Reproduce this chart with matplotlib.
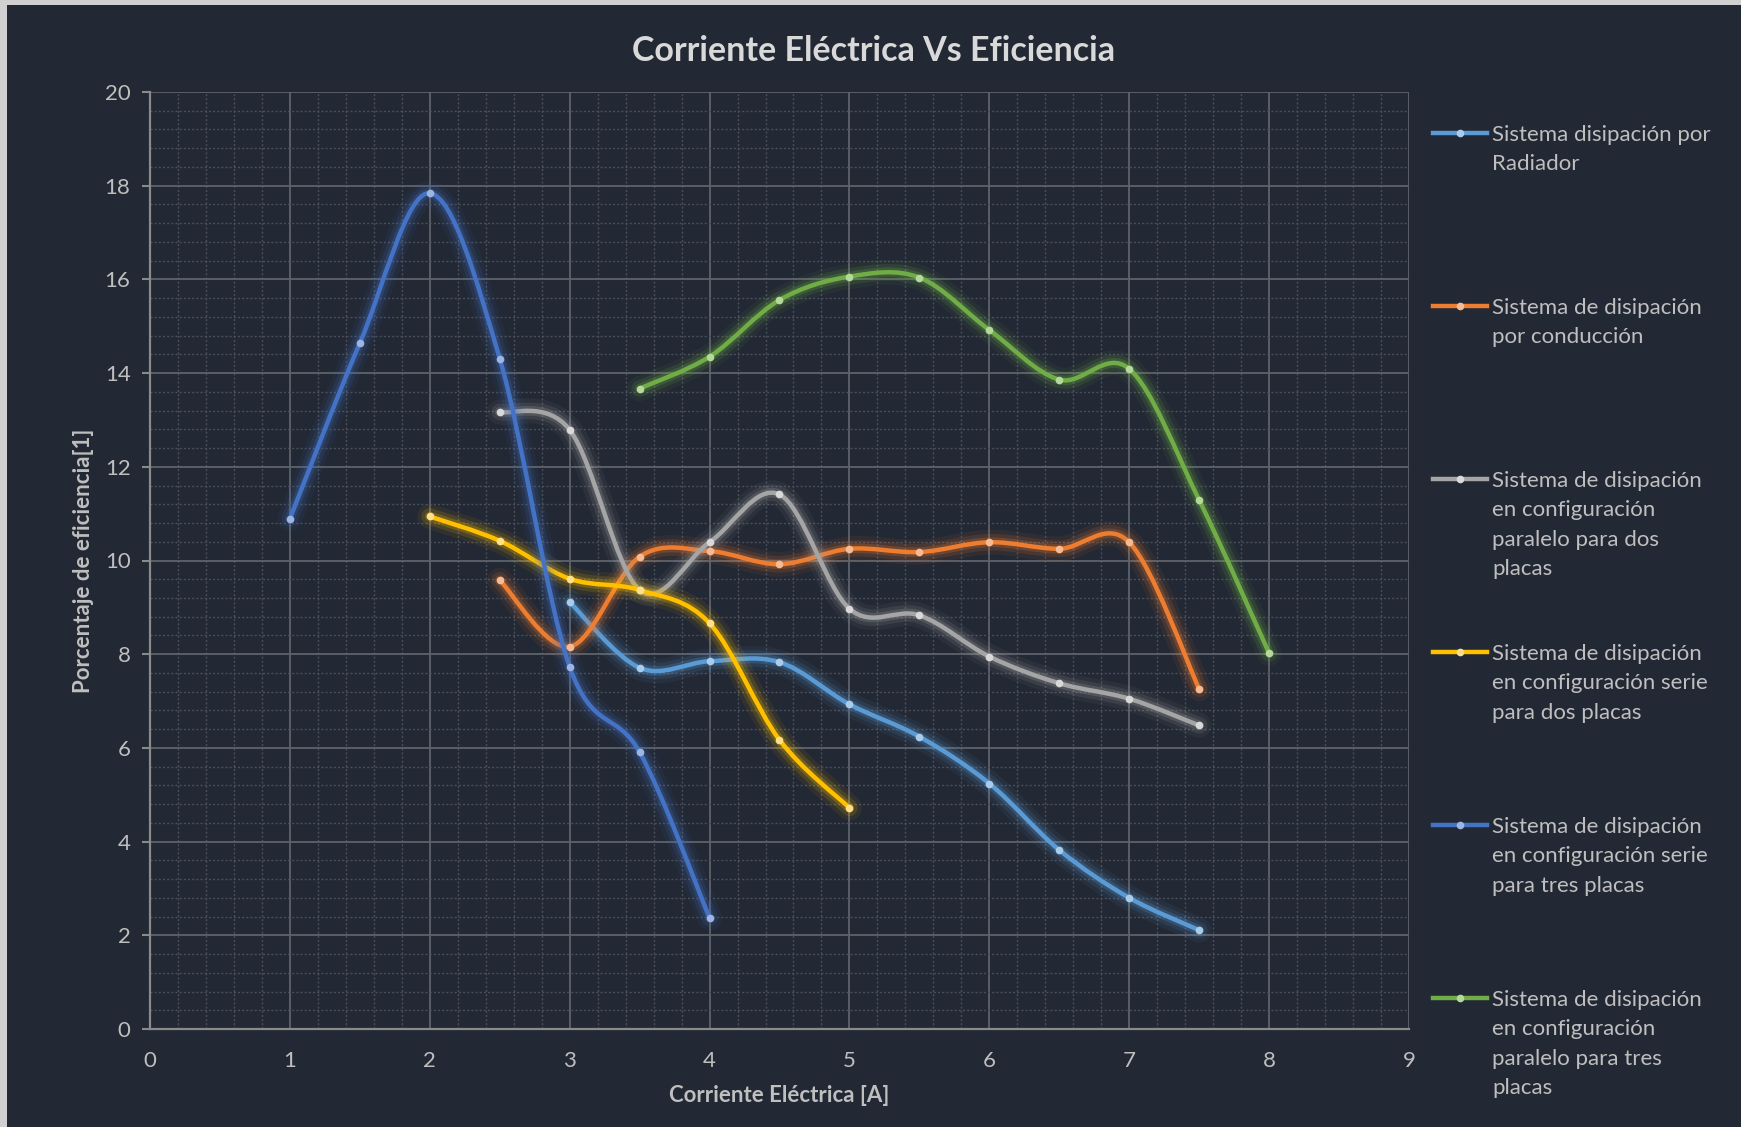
import numpy as np
import matplotlib
matplotlib.use('Agg')
import matplotlib.pyplot as plt
from matplotlib.path import Path
from matplotlib.patches import PathPatch, Rectangle
from matplotlib.lines import Line2D
import matplotlib.patheffects as pe

plt.rcParams['font.family'] = ['Lato', 'DejaVu Sans']

# data
x_radiador = [3, 3.5, 4, 4.5, 5, 5.5, 6, 6.5, 7, 7.5]
y_radiador = [9.11, 7.71, 7.85, 7.83, 6.93, 6.24, 5.24, 3.82, 2.80, 2.11]

x_conduccion = [2.5, 3, 3.5, 4, 4.5, 5, 5.5, 6, 6.5, 7, 7.5]
y_conduccion = [9.58, 8.16, 10.08, 10.20, 9.92, 10.25, 10.18, 10.39, 10.25, 10.39, 7.26]

x_par_dos = [2.5, 3, 3.5, 4, 4.5, 5, 5.5, 6, 6.5, 7, 7.5]
y_par_dos = [13.17, 12.79, 9.37, 10.39, 11.41, 8.97, 8.83, 7.95, 7.38, 7.05, 6.48]

x_serie_dos = [2, 2.5, 3, 3.5, 4, 4.5, 5]
y_serie_dos = [10.94, 10.42, 9.61, 9.37, 8.66, 6.17, 4.72]

x_serie_tres = [1, 1.5, 2, 2.5, 3, 3.5, 4]
y_serie_tres = [10.89, 14.64, 17.84, 14.31, 7.73, 5.91, 2.37]

x_par_tres = [3.5, 4, 4.5, 5, 5.5, 6, 6.5, 7, 7.5, 8]
y_par_tres = [13.67, 14.35, 15.56, 16.06, 16.04, 14.92, 13.86, 14.09, 11.29, 8.02]

labels = ['Sistema disipación por\nRadiador',
          'Sistema de disipación\npor conducción',
          'Sistema de disipación\nen configuración\nparalelo para dos\nplacas',
          'Sistema de disipación\nen configuración serie\npara dos placas',
          'Sistema de disipación\nen configuración serie\npara tres placas',
          'Sistema de disipación\nen configuración\nparalelo para tres\nplacas']

series = [(x_radiador, y_radiador), (x_conduccion, y_conduccion), (x_par_dos, y_par_dos),
          (x_serie_dos, y_serie_dos), (x_serie_tres, y_serie_tres), (x_par_tres, y_par_tres)]
color_list = ['#5B9BD5', '#ED7D31', '#A5A5A5', '#FFC000', '#4472C4', '#70AD47']
marker_colors = ['#A9CCEB', '#F6BB94', '#D9D9D9', '#FFE08A', '#9DB5E3', '#B4D99A']

bg = '#222834'
txt = '#BFBFBF'


def smooth_path(xs, ys):
    '''excel like smoothed line as bezier path'''
    pts = np.column_stack([xs, ys]).astype(float)
    n = len(pts)
    verts = [pts[0]]
    codes = [Path.MOVETO]
    for i in range(n - 1):
        p0 = pts[i - 1] if i > 0 else pts[i]
        p1 = pts[i]
        p2 = pts[i + 1]
        p3 = pts[i + 2] if i + 2 < n else pts[i + 1]
        c1 = p1 + (p2 - p0) / 6.0
        c2 = p2 - (p3 - p1) / 6.0
        verts += [c1, c2, p2]
        codes += [Path.CURVE4] * 3
    return Path(verts, codes)


W, H = 1741, 1127
fig = plt.figure(figsize=(W / 100, H / 100), dpi=100, facecolor='#D0D0D0')
fig.patches.append(Rectangle((7 / W, 0), 1, 1 - 5 / H, transform=fig.transFigure,
                             facecolor=bg, edgecolor='none', zorder=-10))

ax = fig.add_axes([150 / W, 1 - 1029 / H, 1259 / W, 937 / H])
ax.set_facecolor(bg)
ax.set_xlim(0, 9)
ax.set_ylim(0, 20)
ax.set_xticks(range(0, 10))
ax.set_yticks(range(0, 21, 2))
ax.set_xticks(np.arange(0, 9.01, 0.2), minor=True)
ax.set_yticks(np.arange(0, 20.01, 0.4), minor=True)
ax.grid(which='major', color='#5E626B', linewidth=1.3, linestyle='-')
ax.grid(which='minor', color='#4A4F59', linewidth=1.0, linestyle=(0, (1.5, 1.5)))
ax.set_axisbelow(True)
for s in ['top', 'right']:
    ax.spines[s].set_visible(False)
for s in ['left', 'bottom']:
    ax.spines[s].set_color('#8A8A8A')
    ax.spines[s].set_linewidth(1.6)
ax.tick_params(axis='y', which='major', length=6, width=1.5, color='#8A8A8A',
               labelcolor=txt, labelsize=16, pad=8)
ax.tick_params(axis='x', which='major', length=0, labelcolor=txt, labelsize=16, pad=16)
ax.tick_params(which='minor', length=0)

for i, (xs, ys) in enumerate(series):
    c = color_list[i]
    patch = PathPatch(smooth_path(xs, ys), facecolor='none', edgecolor=c, linewidth=3.2,
                      capstyle='round', joinstyle='round', zorder=3 + i * 0.1)
    patch.set_path_effects([pe.Stroke(linewidth=18, foreground=c, alpha=0.07),
                            pe.Stroke(linewidth=12, foreground=c, alpha=0.13),
                            pe.Stroke(linewidth=7, foreground=c, alpha=0.22),
                            pe.Normal()])
    ax.add_patch(patch)
    ax.plot(xs, ys, linestyle='none', marker='o', markersize=5.5, color=marker_colors[i],
            markeredgewidth=0, zorder=4 + i * 0.1)

ax.set_xlabel('Corriente Eléctrica [A]', color=txt, fontsize=16, fontweight='bold', labelpad=10)
ax.set_ylabel('Porcentaje de eficiencia[1]', color=txt, fontsize=16, fontweight='bold', labelpad=8)
fig.text(874 / W, 1 - 51 / H, 'Corriente Eléctrica Vs Eficiencia', color='#D9D9D9',
         fontsize=24.5, fontweight='bold', ha='center', va='center')

# legend drawn by hand
for i, lab in enumerate(labels):
    yc = 133 + 173 * i
    fig.lines.append(Line2D([1433 / W, 1487 / W], [1 - yc / H, 1 - yc / H],
                            transform=fig.transFigure, color=color_list[i], linewidth=3.2))
    fig.lines.append(Line2D([1460 / W], [1 - yc / H], transform=fig.transFigure,
                            marker='o', markersize=5.5, color=marker_colors[i],
                            markeredgewidth=0, linestyle='none'))
    for k, line in enumerate(lab.split('\n')):
        fig.text(1492 / W, 1 - (yc + 8 + 29.3 * k) / H, line, color=txt, fontsize=16,
                 ha='left', va='baseline')

fig.savefig('out.png', dpi=100, facecolor=fig.get_facecolor())
